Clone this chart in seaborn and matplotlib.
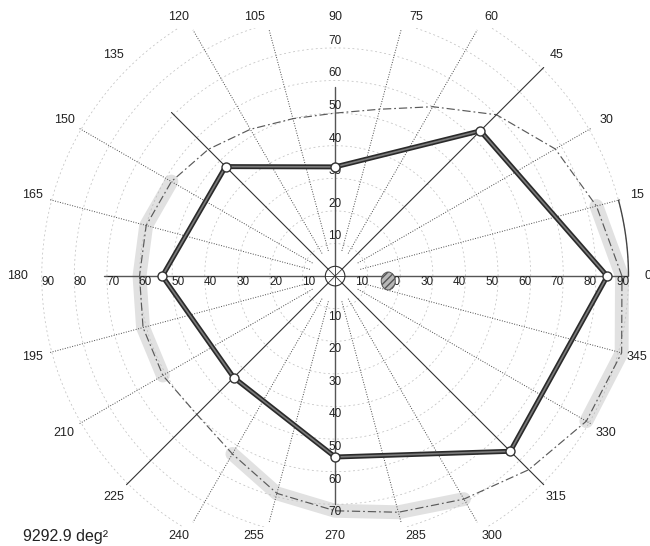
import numpy as np
import pandas as pd
import matplotlib
matplotlib.use("Agg")
import matplotlib.pyplot as plt
import seaborn as sns
from matplotlib.patches import Circle, Ellipse, Rectangle

# Measured isopter (degrees of eccentricity per meridian)
isopter_angles = [0, 45, 90, 135, 180, 225, 270, 315]
isopter_ecc = [83.5, 63, 33.5, 47.5, 53, 44, 55.5, 76]

# Printed normal-field template on the chart form
normal_angles = [0, 15, 30, 45, 60, 75, 90, 105, 120, 135, 150, 165,
                 180, 195, 210, 225, 240, 255, 270, 285, 300, 315, 330, 345]
normal_ecc = [88, 83, 78, 70, 60, 53, 50, 50, 52, 55, 58, 60,
              60, 61, 61, 60, 63, 69, 72, 75, 79, 84, 89, 91]

# shaded stretches of the template (start, end angle)
band_spans = [(-30, 15), (150, 210), (240, 300)]

meridian_angles = list(range(0, 360, 15))
ring_ecc = [10, 20, 30, 40, 50, 60, 70, 80, 90]
x_ticks = [10, 20, 30, 40, 50, 60, 70, 80, 90]
y_ticks = [10, 20, 30, 40, 50, 60, 70]
area_text = "9292.9 deg²"

sns.set_theme(style="white")
plt.rcParams["font.family"] = ["Liberation Sans", "DejaVu Sans"]

fig = plt.figure(figsize=(6.5, 5.46), dpi=100)
ax = fig.add_axes([0, 0, 1, 1])

clip = Rectangle((-100, -77), 200, 153, transform=ax.transData, visible=False)
ax.add_patch(clip)


def polar(ang, ecc):
    a = np.deg2rad(np.asarray(ang, dtype=float))
    e = np.asarray(ecc, dtype=float)
    return e * np.cos(a), e * np.sin(a)


# dashed rings
t = np.linspace(0, 2 * np.pi, 361)
for r in ring_ecc:
    ln, = ax.plot(r * np.cos(t), r * np.sin(t), color="#c2c2c2", lw=0.55,
                  ls=(0, (2.5, 3.5)), zorder=1)
    ln.set_clip_path(clip)

# gray band on parts of the template, then the dash-dot template itself
n_ang = np.array(normal_angles + [360])
n_ecc = np.array(normal_ecc + [normal_ecc[0]])
for a0, a1 in band_spans:
    sel = [(a % 360, e) for a, e in zip(n_ang - 360, n_ecc) if a0 <= a <= a1] + \
          [(a, e) for a, e in zip(n_ang, n_ecc) if a0 <= a <= a1]
    if not sel:
        continue
    sa, se = zip(*sorted(set(sel), key=lambda p: (p[0] - a0) % 360))
    ax.plot(*polar(sa, se), color="#bdbdbd", lw=10, alpha=0.45,
            solid_capstyle="round", zorder=1)
ax.plot(*polar(n_ang, n_ecc), color="#5a5a5a", lw=0.85, ls=(0, (7, 2.5, 1.5, 2.5)), zorder=2)
ax.plot(*polar(np.linspace(0, 15, 20), np.full(20, 90)), color="#444444", lw=1.0, zorder=2)

# meridians
for ang in meridian_angles:
    if ang % 90 == 0:
        continue
    s = np.sin(np.deg2rad(ang))
    r_end = min(90.5, 75.5 / abs(s))
    if ang % 45 == 0:
        if ang == 135:
            r_end = 71
        ax.plot(*polar([ang, ang], [0, r_end]), color="#333333", lw=0.8, zorder=2)
    else:
        ax.plot(*polar([ang, ang], [8, r_end]), color="#4a4a4a", lw=0.7,
                ls=(0, (1, 1.6)), zorder=2)

# main axes
ax.plot([-71, 90], [0, 0], color="#555555", lw=1.0, zorder=2)
ax.plot([0, 0], [-70, 58], color="#555555", lw=1.0, zorder=2)

# axis numbers
for k in x_ticks:
    ax.text(k - 1.8, -1.8, str(k), ha="center", va="center", fontsize=8.5, color="#222222")
    ax.text(-(k - 1.8), -1.8, str(k), ha="center", va="center", fontsize=8.5, color="#222222")
for k in y_ticks:
    ax.text(0, k + 2.2, str(k), ha="center", va="center", fontsize=8.5, color="#222222")
    ax.text(0, -(k + 2.4), str(k), ha="center", va="center", fontsize=8.5, color="#222222")

# meridian labels around the border
for ang in meridian_angles:
    a = np.deg2rad(ang)
    lx = 96 * np.cos(a)
    ly = float(np.clip(96 * np.sin(a), -79.8, 79.6))
    if ang == 180:
        lx = -97.5
    ax.text(lx, ly, str(ang), ha="center", va="center", fontsize=9, color="#222222")

# fixation mark and blind spot
ax.add_patch(Circle((0, 0), 3, facecolor="white", edgecolor="#333333", lw=0.8, zorder=4))
for ang in range(0, 180, 45):
    ax.plot(*polar([ang, ang + 180], [3, 3]), color="#333333", lw=0.6, zorder=5)
ax.add_patch(Ellipse((16.3, -1.5), 4.3, 5.5, facecolor="#b8b8b8", edgecolor="#555555",
                     hatch="/////", lw=0.7, zorder=4))

# isopter
ix, iy = polar(isopter_angles + [isopter_angles[0]], isopter_ecc + [isopter_ecc[0]])
df = pd.DataFrame({"x": ix, "y": iy})
sns.lineplot(data=df, x="x", y="y", sort=False, estimator=None, color="#2a2a2a",
             lw=3.6, ax=ax, zorder=6)
sns.lineplot(data=df, x="x", y="y", sort=False, estimator=None, color="#7a7a7a",
             lw=1.2, ax=ax, zorder=7)
sns.scatterplot(data=df.iloc[:-1], x="x", y="y", s=42, color="white",
                edgecolor="#333333", linewidth=1.0, ax=ax, zorder=8)

ax.text(-95.7, -79.8, area_text, ha="left", va="center", fontsize=11.5, color="#222222")

ax.set_xlim(-102.8, 96.6)
ax.set_ylim(-82.8, 84.7)
ax.axis("off")

fig.savefig("out.png", dpi=100)
